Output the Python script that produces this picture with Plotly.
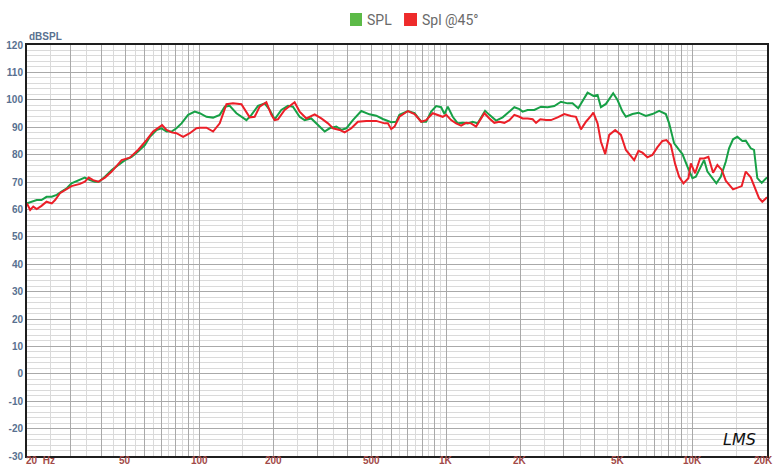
import math
import plotly.graph_objects as go

# ---------------- data ----------------
spl_freq = [20, 20.9, 21.9, 22.9, 24.0, 25.2, 26.4, 27.6, 29.0, 30.3, 32.3, 34.3, 36.0, 37.7, 39.1,
            41.4, 44.1, 46.8, 49.9, 53.1, 56.4, 60.1, 63.0, 67.0, 70.2, 73.6, 77.1, 80.7, 84.6,
            90.0, 95.7, 100.3, 106.8, 113.6, 120.9, 126.7, 132.7, 141.3, 148.0, 155.1, 162.5,
            172.8, 183.9, 192.7, 201.8, 214.8, 228.6, 239.4, 254.8, 267, 284, 298, 307, 322, 337,
            359, 376, 394, 419, 453, 489, 521, 554, 599, 628, 647, 700, 745, 793, 830, 870, 912,
            955, 985, 1016, 1064, 1115, 1168, 1224, 1282, 1343, 1387, 1439, 1498, 1594, 1696,
            1806, 1891, 1982, 2043, 2141, 2279, 2426, 2580, 2746, 2922, 3108, 3255, 3434, 3574,
            3746, 3954, 4112, 4244, 4446, 4758, 4954, 5190, 5358, 5698, 6026, 6454, 6864, 7308,
            7780, 8022, 8406, 8806, 9082, 9516, 9970, 10290, 10780, 11116, 11466, 12012, 12468,
            12990, 13610, 14034, 14566, 15162, 15886, 16400, 17182, 17720, 18272, 19036, 20000]
spl_db = [62.2, 62.8, 63.4, 63.4, 64.6, 64.6, 65.3, 66.5, 67.7, 69.5, 70.7, 71.6, 70.7, 70.1, 70.1,
          71.9, 74.4, 76.2, 78.0, 79.2, 81.1, 83.5, 86.5, 89.0, 89.6, 88.4, 88.4, 89.6, 91.4,
          94.5, 95.7, 95.1, 93.8, 93.5, 94.5, 97.5, 97.8, 95.1, 93.8, 92.6, 94.5,
          97.8, 98.7, 96.3, 92.9, 96.3, 97.8, 97.5, 93.8, 92.6, 93.2, 91.4, 90.2, 88.4, 89.6,
          90.2, 89.0, 89.6, 92.6, 95.9, 94.7, 94.2, 93.0, 91.8, 92.0, 94.5, 95.9, 95.1, 92.0, 92.0, 95.7, 97.7,
          97.3, 94.8, 97.5, 93.8, 91.4, 91.6, 91.4, 92.0, 91.4, 93.8, 96.0, 94.5, 92.4, 93.6,
          95.7, 97.3, 96.6, 95.7, 96.3, 96.3, 97.5, 97.3, 97.7, 99.3, 98.7, 98.7, 96.9, 99.3,
          102.6, 101.4, 101.8, 97.3, 98.5, 102.4, 99.9, 95.7, 93.8, 94.8, 95.3, 94.1, 94.8, 96.0,
          94.8, 91.4, 84.1, 81.7, 80.2, 75.6, 71.4, 71.9, 75.6, 78.0, 73.8, 71.4, 69.5,
          71.9, 77.4, 82.3, 85.6, 86.5, 85.0, 85.1, 82.3, 81.7, 71.4, 69.7, 71.7]

spl45_freq = [20, 20.6, 21.2, 21.9, 22.9, 24.0, 25.2, 26.0, 27.2, 28.5, 30.3, 32.8, 34.3, 35.6, 37.1,
              38.9, 41.4, 44.1, 48.4, 52.2, 56.4, 61.0, 64.9, 70.6, 73.6, 77.1, 80.7, 85.9, 91.4,
              97.3, 100.3, 106.8, 113.6, 120.9, 128.7, 136.8, 148.0, 159.9, 167.5, 175.5, 186.8,
              195.8, 201.8, 208.2, 221.6, 243.2, 254.8, 271.4, 293.2, 312, 332, 348, 370, 388, 413,
              439, 475, 521, 563, 581, 599, 618, 647, 700, 745, 793, 830, 883, 925, 969, 1001,
              1048, 1098, 1151, 1206, 1263, 1323, 1378, 1430, 1498, 1569, 1644, 1723, 1806, 1891,
              1982, 2043, 2141, 2244, 2316, 2410, 2542, 2662, 2832, 3014, 3210, 3362, 3522, 3690,
              3866, 3954, 4112, 4244, 4418, 4586, 4848, 5114, 5358, 5526, 5788, 6026, 6252, 6552,
              6864, 7194, 7536, 7824, 8150, 8484, 8806, 9166, 9604, 9822, 10222, 10708, 11116,
              11572, 12090, 12586, 13114, 13610, 14566, 15798, 16400, 17182, 18000, 18564, 19144, 20000]
spl45_db = [62.2, 59.8, 61.0, 60.1, 61.3, 62.8, 62.2, 63.4, 65.9, 67.1, 68.5, 69.3, 70.1, 71.6, 70.7,
            70.1, 71.6, 73.8, 78.0, 78.9, 81.7, 85.3, 88.4, 90.8, 89.0, 88.1, 87.8, 86.5, 87.8,
            89.6, 89.8, 89.8, 88.4, 91.4, 98.4, 98.7, 98.4, 93.6, 93.8, 97.5, 99.1,
            94.5, 92.6, 92.9, 96.3, 99.1, 95.7, 93.2, 94.7, 93.2, 91.4, 89.6, 89.0, 88.1, 89.6,
            92.0, 92.3, 92.3, 91.4, 91.4, 89.3, 90.2, 93.8, 95.9, 94.8, 92.0, 92.6, 95.1, 94.5, 93.8, 94.5,
            92.6, 91.4, 90.6, 91.6, 91.4, 90.2, 92.6, 95.1, 93.2, 91.6, 92.0, 91.6, 92.6, 94.5,
            93.8, 93.2, 93.2, 92.9, 91.6, 92.9, 92.6, 92.6, 93.6, 94.8, 94.1, 93.8, 89.2, 92.0,
            94.1, 95.3, 91.4, 84.7, 80.2, 87.2, 89.0, 87.2, 81.7, 80.2, 78.0, 81.4, 80.7, 79.0,
            79.9, 82.7, 85.0, 85.3, 83.5, 76.6, 71.9, 69.5, 71.4, 76.8, 73.2, 78.6, 78.6,
            79.2, 73.4, 76.2, 74.4, 70.5, 67.3, 68.5, 73.8, 71.7, 67.1, 64.1, 62.8, 64.4]

series_names = ["SPL", "Spl @45°"]
line_colors = ["#17a046", "#ec1f28"]
legend_colors = ["#5cba47", "#ee2b2b"]

x_tick_vals = [20, 50, 100, 200, 500, 1000, 2000, 5000, 10000, 20000]
x_tick_text = ["20  Hz", "50", "100", "200", "500", "1K", "2K", "5K", "10K", "20K"]
y_tick_vals = [120, 110, 100, 90, 80, 70, 60, 50, 40, 30, 20, 10, 0, -10, -20, -30]

# ---------------- figure ----------------
fig = go.Figure()
fig.add_trace(go.Scatter(x=spl_freq, y=spl_db, mode="lines", name=series_names[0],
                         line=dict(color=line_colors[0], width=2), showlegend=False))
fig.add_trace(go.Scatter(x=spl45_freq, y=spl45_db, mode="lines", name=series_names[1],
                         line=dict(color=line_colors[1], width=2), showlegend=False))

major_x = []
minor_x = []
for dec in [10, 100, 1000, 10000]:
    for m in range(1, 10):
        v = m * dec
        if 20 <= v <= 20000:
            major_x.append(v)
        h = (m + 0.5) * dec
        if 20 <= h <= 20000:
            minor_x.append(h)

fig.update_xaxes(type="log", range=[math.log10(20), math.log10(20000)],
                 tickmode="array", tickvals=major_x, showticklabels=False, ticks="",
                 showgrid=True, gridcolor="#a9a9a9", gridwidth=1,
                 minor=dict(tickmode="array", tickvals=minor_x, showgrid=True,
                            gridcolor="#dadada", gridwidth=1, ticks=""),
                 showline=True, linecolor="#1e1e1e", linewidth=2, mirror=True,
                 zeroline=False, automargin=False)
fig.update_yaxes(range=[-30, 120], tickmode="array", tickvals=y_tick_vals,
                 ticktext=[str(v) for v in y_tick_vals], ticks="",
                 tickfont=dict(family="Liberation Sans, Arial, sans-serif", size=10,
                               color="#587090", weight="bold"),
                 showgrid=True, gridcolor="#a9a9a9", gridwidth=1,
                 minor=dict(dtick=2, showgrid=True, gridcolor="#dadada", gridwidth=1, ticks=""),
                 showline=True, linecolor="#1e1e1e", linewidth=2, mirror=True,
                 zeroline=False, automargin=False)

annotations = []
for v, t in zip(x_tick_vals, x_tick_text):
    annotations.append(dict(x=math.log10(v), xref="x", y=0, yref="paper",
                            text=t, showarrow=False, yanchor="top",
                            xanchor="left" if v == 20 else ("right" if v == 20000 else "center"),
                            xshift=-3 if v == 20 else (8 if v == 20000 else 0), yshift=3,
                            font=dict(family="Liberation Sans, Arial, sans-serif", size=10,
                                      color="#a24a48", weight="bold")))
annotations.append(dict(x=0, xref="paper", y=1.0195, yref="paper", text="dBSPL",
                        showarrow=False, xanchor="left", yanchor="middle",
                        font=dict(family="Liberation Sans, Arial, sans-serif", size=10,
                                  color="#587090", weight="bold")))
annotations.append(dict(x=0.9635, xref="paper", y=0.039, yref="paper", text="<i>LMS</i>",
                        showarrow=False, xanchor="center", yanchor="middle",
                        font=dict(family="DejaVu Sans, sans-serif", size=16, color="#111")))

# manual legend
shapes = []
leg_sq = [(0.4365, 0.4527), (0.5095, 0.5270)]
leg_tx = [0.4568, 0.5311]
for i in range(2):
    shapes.append(dict(type="rect", xref="paper", yref="paper",
                       x0=leg_sq[i][0], x1=leg_sq[i][1], y0=1.0462, y1=1.0779,
                       fillcolor=legend_colors[i], line=dict(width=0)))
    annotations.append(dict(x=leg_tx[i], xref="paper", y=1.062, yref="paper",
                            text=series_names[i], showarrow=False,
                            xanchor="left", yanchor="middle",
                            font=dict(family="Liberation Sans Narrow, Arial Narrow, Roboto, sans-serif",
                                      size=14, color="#6a6a6a")))

fig.update_layout(width=774, height=466, margin=dict(l=27, r=7, t=45, b=10),
                  paper_bgcolor="white", plot_bgcolor="white",
                  showlegend=False, annotations=annotations, shapes=shapes)

fig.write_html("out.html", config={"displayModeBar": False},
               post_script="document.body.style.margin='0';document.body.style.overflow='hidden';")
